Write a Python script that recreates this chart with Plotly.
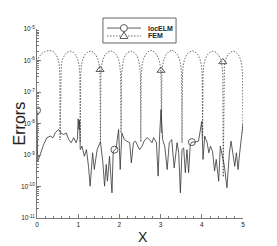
import plotly.graph_objects as go

# ---------------- data ----------------
# locELM error curve: x and log10(error)
locelm_x = [0.0, 0.015, 0.08, 0.16, 0.24, 0.32, 0.39, 0.44, 0.52, 0.58, 0.65, 0.71, 0.77, 0.83,
            0.89, 0.95, 0.98, 1.00, 1.02, 1.035, 1.05, 1.09, 1.15, 1.20, 1.25, 1.29, 1.35, 1.39,
            1.46, 1.54, 1.60, 1.64, 1.68, 1.71, 1.76, 1.82, 1.85, 1.88, 1.92, 1.98, 2.02, 2.06,
            2.12, 2.18, 2.25, 2.29, 2.34, 2.39, 2.44, 2.49, 2.55, 2.60, 2.67, 2.73, 2.79, 2.83,
            2.90, 2.94, 2.98, 3.01, 3.05, 3.10, 3.16, 3.21, 3.27, 3.33, 3.40, 3.44, 3.48, 3.52,
            3.56, 3.60, 3.64, 3.68, 3.72, 3.76, 3.84, 3.92, 4.00, 4.03, 4.07, 4.13, 4.17, 4.21,
            4.26, 4.31, 4.35, 4.41, 4.45, 4.50, 4.55, 4.61, 4.67, 4.71, 4.76, 4.80, 4.84, 4.88,
            4.92, 4.96, 5.00]
locelm_log10 = [-7.58, -9.20, -8.98, -8.67, -8.45, -8.40, -8.45, -8.30, -8.19, -8.30, -8.35, -8.30,
                -8.51, -8.61, -8.45, -8.61, -8.50, -7.85, -8.20, -7.90, -8.83, -8.72, -9.04, -8.83,
                -9.36, -9.99, -8.93, -9.46, -8.83, -8.58, -9.25, -9.99, -9.30, -9.83, -9.04, -10.2,
                -8.88, -8.83, -8.80, -8.19, -9.46, -8.30, -8.51, -8.56, -8.61, -9.25, -8.61, -8.56,
                -8.72, -8.83, -8.72, -8.56, -8.45, -8.51, -8.61, -8.45, -8.61, -9.67, -8.30, -7.56,
                -8.51, -8.72, -9.46, -8.61, -8.51, -9.41, -8.61, -8.93, -10.2, -8.83, -8.77, -9.56,
                -8.83, -9.56, -8.67, -8.59, -8.59, -8.56, -7.93, -9.14, -8.40, -8.61, -8.93, -8.72,
                -8.88, -9.51, -9.14, -9.83, -8.72, -9.04, -9.36, -10.04, -8.93, -8.56, -8.93, -9.36,
                -8.93, -9.46, -8.93, -8.51, -8.00]
locelm_marker_x = [0.0, 1.88, 3.76]
locelm_marker_log10 = [-7.58, -8.83, -8.59]

# FEM error curve: x and error
fem_x = [0.0, 0.05, 0.12, 0.20, 0.30, 0.40, 0.47, 0.52, 0.545, 0.555, 0.56,
         0.570, 0.589, 0.619, 0.668, 0.732, 0.805, 0.879, 0.942, 0.991, 1.021, 1.040, 1.05,
         1.060, 1.079, 1.109, 1.158, 1.222, 1.295, 1.369, 1.432, 1.481, 1.511, 1.530, 1.54,
         1.550, 1.570, 1.600, 1.650, 1.715, 1.790, 1.865, 1.930, 1.980, 2.010, 2.030, 2.04,
         2.050, 2.069, 2.098, 2.146, 2.208, 2.280, 2.352, 2.414, 2.462, 2.491, 2.510, 2.52,
         2.530, 2.550, 2.580, 2.630, 2.695, 2.770, 2.845, 2.910, 2.960, 2.990, 3.010, 3.02,
         3.030, 3.050, 3.080, 3.130, 3.195, 3.270, 3.345, 3.410, 3.460, 3.490, 3.510, 3.52,
         3.530, 3.550, 3.580, 3.630, 3.695, 3.770, 3.845, 3.910, 3.960, 3.990, 4.010, 4.02,
         4.030, 4.050, 4.080, 4.130, 4.195, 4.270, 4.345, 4.410, 4.460, 4.490, 4.510, 4.52,
         4.530, 4.549, 4.578, 4.626, 4.688, 4.760, 4.832, 4.894, 4.942, 4.971, 4.990, 5.0]
fem_err = [9.5e-7, 1.3e-6, 1.7e-6, 1.95e-6, 2.1e-6, 1.9e-6, 1.48e-6, 1.05e-6, 6.3e-7, 3.2e-7, 3.0e-9,
           3.5e-7, 7.1e-7, 1.07e-6, 1.48e-6, 1.82e-6, 2.0e-6, 1.82e-6, 1.48e-6, 1.07e-6, 7.1e-7, 3.5e-7, 2.5e-9,
           3.5e-7, 7.1e-7, 1.07e-6, 1.48e-6, 1.82e-6, 2.0e-6, 1.82e-6, 1.48e-6, 1.07e-6, 7.1e-7, 3.5e-7, 2.5e-9,
           3.5e-7, 7.1e-7, 1.07e-6, 1.5e-6, 1.85e-6, 2.05e-6, 1.85e-6, 1.5e-6, 1.07e-6, 7.1e-7, 3.5e-7, 5.0e-9,
           3.5e-7, 7.1e-7, 1.07e-6, 1.48e-6, 1.82e-6, 2.0e-6, 1.82e-6, 1.48e-6, 1.07e-6, 7.1e-7, 3.5e-7, 2.6e-9,
           3.5e-7, 7.1e-7, 1.07e-6, 1.5e-6, 1.9e-6, 2.1e-6, 1.9e-6, 1.5e-6, 1.07e-6, 7.1e-7, 3.5e-7, 5.0e-9,
           3.5e-7, 7.1e-7, 1.07e-6, 1.52e-6, 1.9e-6, 2.15e-6, 1.9e-6, 1.52e-6, 1.07e-6, 7.1e-7, 3.5e-7, 2.4e-9,
           3.5e-7, 7.1e-7, 1.07e-6, 1.5e-6, 1.85e-6, 2.05e-6, 1.85e-6, 1.5e-6, 1.07e-6, 7.1e-7, 3.5e-7, 3.5e-9,
           3.5e-7, 7.1e-7, 1.07e-6, 1.48e-6, 1.82e-6, 2.0e-6, 1.82e-6, 1.48e-6, 1.07e-6, 7.1e-7, 3.5e-7, 2.0e-10,
           3.5e-7, 7.1e-7, 1.07e-6, 1.48e-6, 1.82e-6, 2.0e-6, 1.82e-6, 1.48e-6, 1.07e-6, 7.1e-7, 3.5e-7, 5.0e-9]
fem_marker_x = [1.53, 3.01, 4.51]
fem_marker_err = [5.1e-7, 4.8e-7, 9.0e-7]

y_tickvals = [1e-11, 1e-10, 1e-9, 1e-8, 1e-7, 1e-6, 1e-5]
y_ticktext = ["10<sup>-11</sup>", "10<sup>-10</sup>", "10<sup>-9</sup>", "10<sup>-8</sup>",
              "10<sup>-7</sup>", "10<sup>-6</sup>", "10<sup>-5</sup>"]
x_tickvals = [0, 1, 2, 3, 4, 5]
x_ticktext = ["0", "1", "2", "3", "4", "5"]
series_names = ["locELM", "FEM"]
x_title = "X"
y_title = "Errors"

# ---------------- figure ----------------
LINE_C = "#333333"
FEM_C = "#444444"
AX_C = "#777777"
FEM_DASH = "1.5px,1.5px"
locelm_y = [10 ** v for v in locelm_log10]
locelm_marker_y = [10 ** v for v in locelm_marker_log10]

fig = go.Figure()
fig.add_trace(go.Scatter(x=fem_x, y=fem_err, mode="lines", showlegend=False,
                         line=dict(color=FEM_C, width=0.8, dash=FEM_DASH)))
fig.add_trace(go.Scatter(x=locelm_x, y=locelm_y, mode="lines", showlegend=False,
                         line=dict(color=LINE_C, width=0.8)))
fig.add_trace(go.Scatter(x=locelm_marker_x, y=locelm_marker_y, mode="markers", showlegend=False,
                         marker=dict(symbol="circle-open", size=7, color=LINE_C, line=dict(width=0.8))))
fig.add_trace(go.Scatter(x=fem_marker_x, y=fem_marker_err, mode="markers", showlegend=False,
                         marker=dict(symbol="triangle-up-open", size=7, color=LINE_C, line=dict(width=0.8))))

# hand-built legend box (paper coordinates)
L_X0, L_X1, L_Y0, L_Y1 = 0.320, 0.675, 0.926, 1.058
ROW_Y = [1.005, 0.963]
SAMPLE_X0, SAMPLE_X1, SYM_X, TXT_X = 0.340, 0.505, 0.422, 0.527
shapes = [dict(type="rect", xref="paper", yref="paper", x0=L_X0, x1=L_X1, y0=L_Y0, y1=L_Y1,
               line=dict(color="#666666", width=1), fillcolor="white", layer="above")]
shapes.append(dict(type="line", xref="paper", yref="paper", x0=SAMPLE_X0, x1=SAMPLE_X1,
                   y0=ROW_Y[0], y1=ROW_Y[0], line=dict(color=LINE_C, width=0.8), layer="above"))
shapes.append(dict(type="line", xref="paper", yref="paper", x0=SAMPLE_X0, x1=SAMPLE_X1,
                   y0=ROW_Y[1], y1=ROW_Y[1], line=dict(color=FEM_C, width=0.8, dash=FEM_DASH),
                   layer="above"))
shapes.append(dict(type="circle", xref="paper", yref="paper", xsizemode="pixel", ysizemode="pixel",
                   xanchor=SYM_X, yanchor=ROW_Y[0], x0=-3.5, x1=3.5, y0=-3.5, y1=3.5,
                   line=dict(color=LINE_C, width=0.8), fillcolor="white", layer="above"))
shapes.append(dict(type="path", xref="paper", yref="paper", xsizemode="pixel", ysizemode="pixel",
                   xanchor=SYM_X, yanchor=ROW_Y[1], path="M -4 -2.5 L 4 -2.5 L 0 4 Z",
                   line=dict(color=LINE_C, width=0.8), fillcolor="white", layer="above"))
annotations = []
for name, ry in zip(series_names, ROW_Y):
    annotations.append(dict(text="<b>%s</b>" % name, xref="paper", yref="paper", x=TXT_X, y=ry,
                            xanchor="left", yanchor="middle", showarrow=False,
                            font=dict(size=7, color="#222222")))
annotations.append(dict(text=x_title, xref="paper", yref="paper", x=0.515, y=-0.10,
                        xanchor="center", yanchor="middle", showarrow=False,
                        font=dict(size=14, color="#222222")))
annotations.append(dict(text=y_title, xref="paper", yref="paper", x=-0.083, y=0.50,
                        xanchor="center", yanchor="middle", showarrow=False, textangle=-90,
                        font=dict(size=16, color="#222222")))

# the page body has an 8px default margin, so the figure is made 8px smaller
fig.update_layout(
    width=269, height=238,
    margin=dict(l=29, r=34, t=21, b=28, pad=0),
    paper_bgcolor="white", plot_bgcolor="white",
    font=dict(family="Liberation Sans, Arial, sans-serif", color="#222222"),
    showlegend=False,
    shapes=shapes, annotations=annotations,
)
fig.update_xaxes(
    range=[0, 5], tickvals=x_tickvals, ticktext=x_ticktext, automargin=False,
    showgrid=False, zeroline=False, showline=True, linecolor=AX_C, linewidth=1,
    ticks="inside", ticklen=4, tickcolor=AX_C, tickwidth=1,
    tickfont=dict(size=6.5),
    minor=dict(ticks="inside", ticklen=2, dtick=0.2, tickcolor=AX_C, showgrid=False),
)
fig.update_yaxes(
    type="log", range=[-11, -5], tickvals=y_tickvals, ticktext=y_ticktext, automargin=False,
    showgrid=False, zeroline=False, showline=True, linecolor=AX_C, linewidth=1,
    ticks="inside", ticklen=4, tickcolor=AX_C, tickwidth=1,
    tickfont=dict(size=6.5),
    minor=dict(ticks="inside", ticklen=2, dtick="D1", tickcolor=AX_C, showgrid=False),
)

fig.write_html("out.html")
